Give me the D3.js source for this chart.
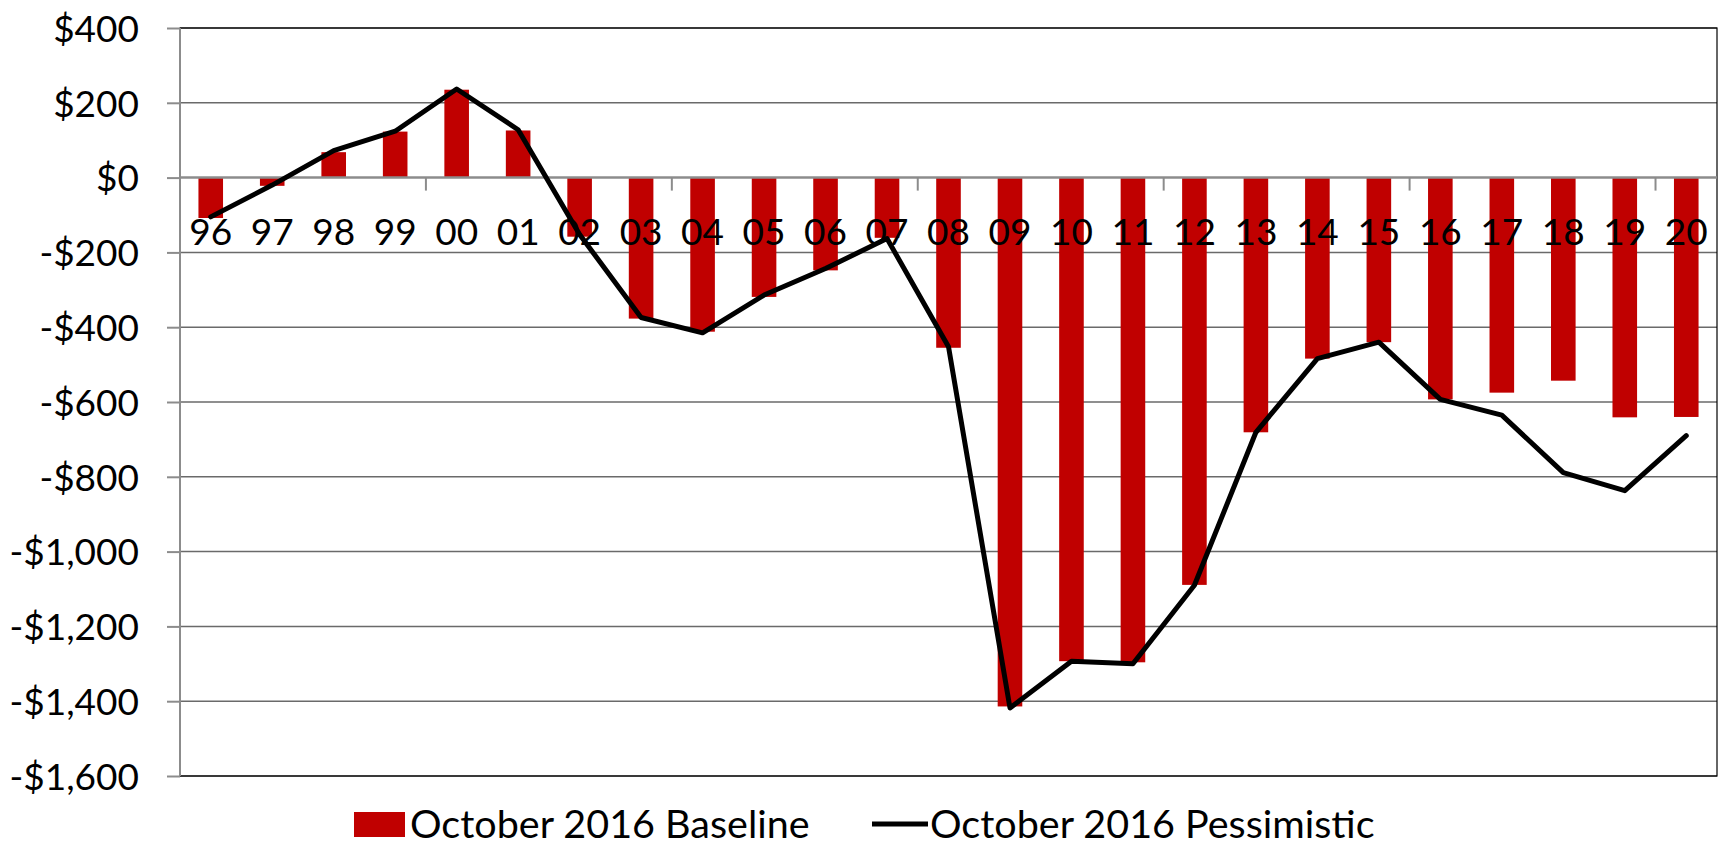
<!DOCTYPE html>
<html>
<head>
<meta charset="utf-8">
<script src="https://cdn.jsdelivr.net/npm/d3@7"></script>
<style>
  body { margin: 0; background: #fff; overflow: hidden; }
  text { font-family: Lato, "Open Sans", sans-serif; fill: #000; }
</style>
</head>
<body>
<div id="chart"></div>
<script>
// fiscal years, 1996 - 2020
var years = ["96","97","98","99","00","01","02","03","04","05","06","07","08",
             "09","10","11","12","13","14","15","16","17","18","19","20"];

// October 2016 Baseline (bars)
var baseline = [-108,-22,68,123,235,126,-158,-377,-412,-319,-248,-161,-455,
                -1414,-1293,-1296,-1089,-681,-484,-440,-593,-575,-543,-641,-640];

// October 2016 Pessimistic (line)
var pessimistic = [-105,-20,72,124,237,128,-152,-374,-415,-314,-243,-163,-452,
                   -1418,-1293,-1300,-1090,-681,-484,-440,-593,-635,-789,-837,-690];

var yTicks = [400,200,0,-200,-400,-600,-800,-1000,-1200,-1400,-1600];

var legendNames = ["October 2016 Baseline", "October 2016 Pessimistic"];

var W = 1721, H = 841;
// plot area (window.top is reserved, so use p* names)
var pLeft = 180, pRight = 1717, pTop = 28, pBottom = 776;
var RED = "#C00000";

var svg = d3.select("#chart").append("svg")
    .attr("width", W).attr("height", H);

var x = d3.scaleBand()
    .domain(years)
    .range([pLeft, pRight])
    .paddingInner(0.6)
    .paddingOuter(0.3);

var y = d3.scaleLinear()
    .domain([-1600, 400])
    .range([pBottom, pTop]);

var step = x.step();

// gridlines
svg.append("g").selectAll("line")
    .data(yTicks.filter(function(d) { return d !== 0; }))
    .enter().append("line")
    .attr("x1", pLeft).attr("x2", pRight)
    .attr("y1", function(d) { return y(d); })
    .attr("y2", function(d) { return y(d); })
    .attr("stroke", "#6a6a6a")
    .attr("stroke-width", 1.5);

// plot border (right / bottom)
svg.append("rect")
    .attr("x", pLeft).attr("y", pTop)
    .attr("width", pRight - pLeft).attr("height", pBottom - pTop)
    .attr("fill", "none")
    .attr("stroke", "#000")
    .attr("stroke-width", 1.2);

// y axis with labels
var fmt = function(d) {
    return (d < 0 ? "-$" : "$") + d3.format(",")(Math.abs(d));
};
var yAxis = svg.append("g")
    .attr("transform", "translate(" + pLeft + ",0)")
    .call(d3.axisLeft(y).tickValues(yTicks).tickFormat(fmt)
          .tickSize(13).tickPadding(28));
yAxis.select(".domain").remove();
yAxis.selectAll(".tick line").attr("stroke", "#8c8c8c").attr("stroke-width", 2);
yAxis.selectAll(".tick text")
    .attr("font-size", "37px")
    .attr("font-family", "Lato, sans-serif")
    .attr("fill", "#000")
    .attr("dy", "0.36em");

svg.append("line")
    .attr("x1", pLeft).attr("x2", pLeft)
    .attr("y1", pTop).attr("y2", pBottom)
    .attr("stroke", "#8c8c8c").attr("stroke-width", 2);

// bars
svg.append("g").selectAll("rect")
    .data(baseline)
    .enter().append("rect")
    .attr("x", function(d, i) { return x(years[i]); })
    .attr("width", x.bandwidth())
    .attr("y", function(d) { return y(Math.max(0, d)); })
    .attr("height", function(d) { return Math.abs(y(d) - y(0)); })
    .attr("fill", RED);

// zero axis line and category ticks
svg.append("line")
    .attr("x1", pLeft).attr("x2", pRight)
    .attr("y1", y(0)).attr("y2", y(0))
    .attr("stroke", "#8c8c8c").attr("stroke-width", 2.5);

var tickIdx = d3.range(0, years.length + 1, 4);
svg.append("g").selectAll("line")
    .data(tickIdx)
    .enter().append("line")
    .attr("x1", function(k) { return pLeft + k * step; })
    .attr("x2", function(k) { return pLeft + k * step; })
    .attr("y1", y(0)).attr("y2", y(0) + 13)
    .attr("stroke", "#8c8c8c").attr("stroke-width", 2);

// category labels
svg.append("g").selectAll("text")
    .data(years)
    .enter().append("text")
    .attr("x", function(d) { return x(d) + x.bandwidth() / 2; })
    .attr("y", 245)
    .attr("text-anchor", "middle")
    .attr("font-size", "37px")
    .text(function(d) { return d; });

// pessimistic line
var line = d3.line()
    .x(function(d, i) { return x(years[i]) + x.bandwidth() / 2; })
    .y(function(d) { return y(d); });

svg.append("path")
    .datum(pessimistic)
    .attr("d", line)
    .attr("fill", "none")
    .attr("stroke", "#000")
    .attr("stroke-width", 5)
    .attr("stroke-linejoin", "round")
    .attr("stroke-linecap", "round");

// legend
var lg = svg.append("g");
lg.append("rect")
    .attr("x", 354).attr("y", 812)
    .attr("width", 51).attr("height", 25)
    .attr("fill", RED);
lg.append("text")
    .attr("x", 410).attr("y", 838)
    .attr("font-size", "39.5px")
    .text(legendNames[0]);
lg.append("line")
    .attr("x1", 872).attr("x2", 928)
    .attr("y1", 824).attr("y2", 824)
    .attr("stroke", "#000").attr("stroke-width", 5);
lg.append("text")
    .attr("x", 930).attr("y", 838)
    .attr("font-size", "39.5px")
    .text(legendNames[1]);
</script>
</body>
</html>
